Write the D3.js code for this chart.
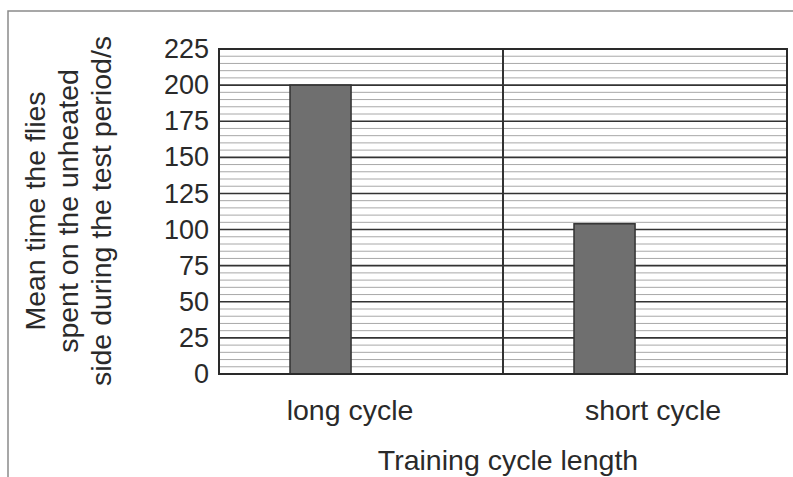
<!DOCTYPE html>
<html>
<head>
<meta charset="utf-8">
<script src="https://cdn.jsdelivr.net/npm/d3@7/dist/d3.min.js"></script>
<style>
  html, body { margin: 0; padding: 0; background: #fff; }
  svg { display: block; }
  text { font-family: "Liberation Sans", Arial, sans-serif; fill: #2a2a2a; }
</style>
</head>
<body>
<svg id="chart" width="793" height="477"></svg>
<script>
const categories = ["long cycle", "short cycle"];
const values = [200, 104];
const yTicks = [0, 25, 50, 75, 100, 125, 150, 175, 200, 225];
const minorStep = 5;
const yTitleLines = ["Mean time the flies", "spent on the unheated", "side during the test period/s"];
const xTitle = "Training cycle length";

const W = 793, H = 477;
const plot = { left: 219, right: 787, top: 49, bottom: 374 };
const svg = d3.select("#chart");

svg.append("rect").attr("width", W).attr("height", H).attr("fill", "#fff");

// outer frame
svg.append("path")
  .attr("d", `M8,${H} L8,11 L${W},11`)
  .attr("fill", "none").attr("stroke", "#8a8a8a").attr("stroke-width", 1.5);

const x = d3.scaleBand().domain(categories).range([plot.left, plot.right]).padding(0);
const y = d3.scaleLinear().domain([0, 225]).range([plot.bottom, plot.top]);

// minor gridlines
const minor = d3.range(0, 225 + 0.001, minorStep).filter(v => v % 25 !== 0);
svg.append("g").selectAll("line").data(minor).join("line")
  .attr("x1", plot.left).attr("x2", plot.right)
  .attr("y1", d => y(d)).attr("y2", d => y(d))
  .attr("stroke", "#a8a8a8").attr("stroke-width", 1);

// major gridlines
svg.append("g").selectAll("line").data(yTicks).join("line")
  .attr("x1", plot.left).attr("x2", plot.right)
  .attr("y1", d => y(d)).attr("y2", d => y(d))
  .attr("stroke", "#333").attr("stroke-width", 1.6);

// category separator
svg.append("g").selectAll("line").data(categories.slice(1)).join("line")
  .attr("x1", d => x(d)).attr("x2", d => x(d))
  .attr("y1", plot.top).attr("y2", plot.bottom)
  .attr("stroke", "#333").attr("stroke-width", 2);

// bars
const bw = x.bandwidth();
svg.append("g").selectAll("rect").data(categories).join("rect")
  .attr("x", d => x(d) + bw * 0.25)
  .attr("width", bw * 0.215)
  .attr("y", (d, i) => y(values[i]))
  .attr("height", (d, i) => y(0) - y(values[i]))
  .attr("fill", "#6f6f6f").attr("stroke", "#333").attr("stroke-width", 1.5);

// plot border
svg.append("rect")
  .attr("x", plot.left).attr("y", plot.top)
  .attr("width", plot.right - plot.left).attr("height", plot.bottom - plot.top)
  .attr("fill", "none").attr("stroke", "#2a2a2a").attr("stroke-width", 2);

// y tick labels
const yAxis = d3.axisLeft(y).tickValues(yTicks).tickSize(0).tickPadding(10);
const gy = svg.append("g").attr("transform", `translate(${plot.left},0)`).call(yAxis);
gy.select(".domain").remove();
gy.selectAll("text").style("font-size", "27px").attr("fill", "#2a2a2a")
  .style("font-family", "'Liberation Sans', Arial, sans-serif");

// x category labels
const xAxis = d3.axisBottom(x).tickSize(0).tickPadding(26);
const gx = svg.append("g").attr("transform", `translate(0,${plot.bottom})`).call(xAxis);
gx.select(".domain").remove();
const labelShift = [-11, 8];
gx.selectAll(".tick text").style("font-size", "28.5px").attr("fill", "#2a2a2a")
  .style("font-family", "'Liberation Sans', Arial, sans-serif")
  .attr("dx", (d, i) => labelShift[i]);

// x title
svg.append("text")
  .attr("x", 508).attr("y", 470)
  .attr("text-anchor", "middle")
  .style("font-size", "28.5px")
  .text(xTitle);

// y title
const yt = svg.append("text")
  .attr("transform", "translate(45,211) rotate(-90)")
  .attr("text-anchor", "middle")
  .style("font-size", "28.5px");
yTitleLines.forEach((t, i) => {
  yt.append("tspan").attr("x", 0).attr("dy", i === 0 ? 0 : 33).text(t);
});
</script>
</body>
</html>
